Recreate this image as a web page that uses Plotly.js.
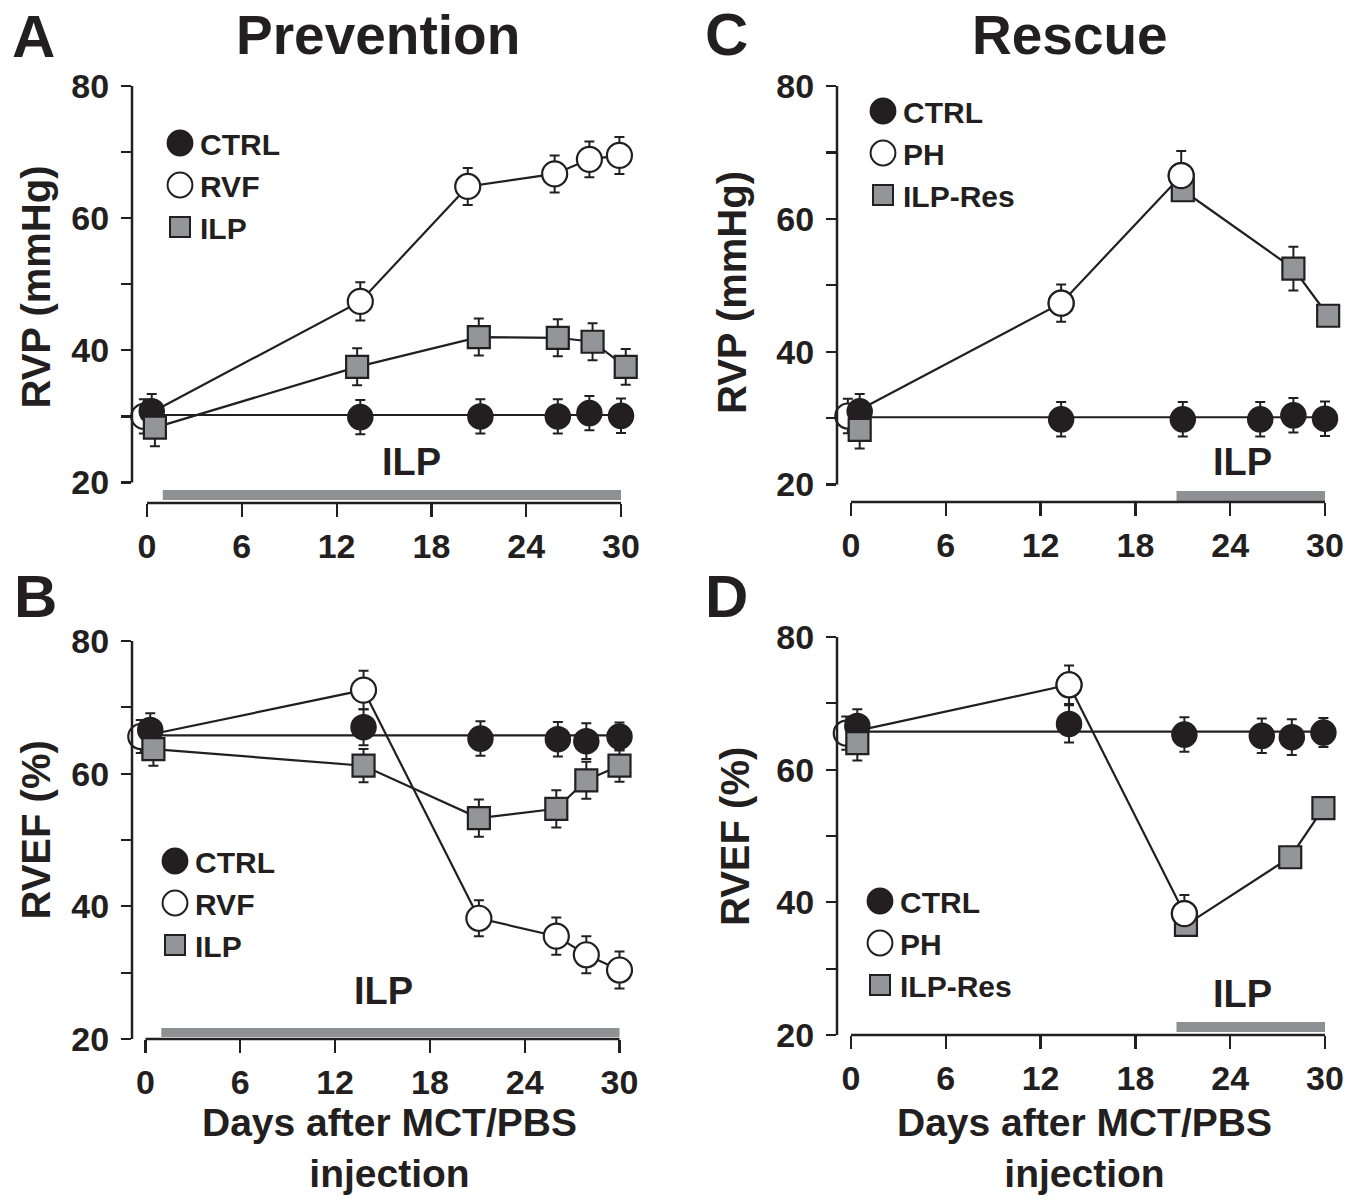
<!DOCTYPE html>
<html><head><meta charset="utf-8">
<script src="https://cdn.plot.ly/plotly-3.0.1.min.js"></script>
<style>html,body{margin:0;padding:0;background:#fff}#chart{width:1371px;height:1201px}</style>
</head><body><div id="chart"></div>
<script>
// ---------------- DATA ----------------
const xTicks = [0, 6, 12, 18, 24, 30];
const yTicks = [20, 30, 40, 50, 60, 70, 80];
const yTickText = ['20', '', '40', '', '60', '', '80'];

// ILP treatment period (days)
const ilpPrevention = [1, 30];
const ilpRescue = [20.6, 30];

// Panel A: Prevention, RVP (mmHg)
const daysA_ctrl = [0.3, 13.5, 21.1, 26.0, 28.0, 30.0];
const rvpA_ctrl = [30.8, 29.9, 30.0, 30.0, 30.5, 30.1];
const rvpA_ctrlErr = [2.6, 2.6, 2.6, 2.6, 2.6, 2.6];
const daysA_rvf = [-0.2, 13.5, 20.3, 25.8, 28.0, 29.9];
const rvpA_rvf = [30.0, 47.4, 64.8, 66.7, 68.9, 69.5];
const rvpA_rvfErr = [2.6, 2.9, 2.8, 2.8, 2.7, 2.8];
const daysA_ilp = [0.5, 13.3, 21.0, 26.0, 28.2, 30.3];
const rvpA_ilp = [28.3, 37.5, 42.0, 41.9, 41.3, 37.5];
const rvpA_ilpErr = [2.8, 2.8, 2.8, 2.8, 2.8, 2.7];

// Panel B: Prevention, RVEF (%)
const daysB_ctrl = [0.3, 13.8, 21.2, 26.1, 27.9, 30.0];
const efB_ctrl = [66.6, 67.0, 65.3, 65.2, 64.9, 65.6];
const efB_ctrlErr = [2.5, 2.7, 2.6, 2.6, 2.7, 2.1];
const daysB_rvf = [-0.3, 13.8, 21.1, 26.0, 27.9, 30.0];
const efB_rvf = [65.6, 72.6, 38.2, 35.5, 32.7, 30.4];
const efB_rvfErr = [2.5, 2.9, 2.7, 2.8, 2.8, 2.8];
const daysB_ilp = [0.5, 13.8, 21.1, 26.0, 27.9, 30.0];
const efB_ilp = [63.7, 61.2, 53.3, 54.7, 59.0, 61.2];
const efB_ilpErr = [2.5, 2.5, 2.8, 2.8, 2.8, 2.4];

// Panel C: Rescue, RVP (mmHg)
const daysC_ctrl = [0.55, 13.3, 21.0, 25.9, 28.0, 30.0];
const rvpC_ctrl = [31.0, 29.8, 29.8, 29.8, 30.4, 29.9];
const rvpC_ctrlErr = [2.6, 2.6, 2.6, 2.6, 2.6, 2.6];
const daysC_ph = [-0.2, 13.3, 20.9];
const rvpC_ph = [30.3, 47.3, 66.5];
const rvpC_phErr = [2.6, 2.8, 3.7];
const daysC_ilpRes = [0.55, 21.0, 28.0, 30.2];
const rvpC_ilpRes = [28.2, 64.3, 52.5, 45.4];
const rvpC_ilpResErr = [2.8, 1.0, 3.3, 0.8];

// Panel D: Rescue, RVEF (%)
const daysD_ctrl = [0.4, 13.8, 21.1, 26.0, 27.9, 29.9];
const efD_ctrl = [66.6, 66.9, 65.3, 65.1, 64.9, 65.6];
const efD_ctrlErr = [2.5, 2.8, 2.6, 2.6, 2.7, 2.2];
const daysD_ph = [-0.3, 13.8, 21.1];
const efD_ph = [65.5, 72.8, 38.3];
const efD_phErr = [2.5, 2.9, 2.8];
const daysD_ilpRes = [0.4, 21.2, 27.8, 29.9];
const efD_ilpRes = [64.0, 36.6, 46.8, 54.2];
const efD_ilpResErr = [2.6, 0.8, 0.8, 0.8];

// ---------------- STYLE ----------------
const W = 1371, H = 1201;
const BLACK = '#231f20', GRAY = '#939598', BAR = '#8e9093';
const FONT = '"Liberation Sans", Arial, Helvetica, sans-serif';
const px = x => x / W;
const py = y => 1 - y / H;

const mk = {
  ctrl: {symbol: 'circle', size: 25, color: BLACK, line: {color: BLACK, width: 1.5}},
  open: {symbol: 'circle', size: 25, color: '#ffffff', line: {color: BLACK, width: 2.2}},
  sq:   {symbol: 'square', size: 22, color: GRAY, line: {color: BLACK, width: 2.2}}
};

const mean = a => a.reduce((s, v) => s + v, 0) / a.length;

function lineTrace(xa, ya, x, y) {
  return {type: 'scatter', mode: 'lines', x: x, y: y, xaxis: xa, yaxis: ya,
    line: {color: BLACK, width: 2.2}, showlegend: false, hoverinfo: 'skip', cliponaxis: false};
}
function flatTrace(xa, ya, x, y) {
  const m = mean(y);
  return lineTrace(xa, ya, [Math.min(...x), Math.max(...x)], [m, m]);
}
function markTrace(xa, ya, legend, name, rank, x, y, err, marker) {
  const t = {type: 'scatter', mode: 'markers', name: name, x: x, y: y, xaxis: xa, yaxis: ya,
    legend: legend, legendrank: rank, marker: marker, cliponaxis: false};
  if (err) {
    t.error_y = {type: 'data', array: err, visible: true, color: BLACK, thickness: 2, width: 5};
  } else {
    t.showlegend = false;
  }
  return t;
}

const traces = [
  // Panel A
  flatTrace('x', 'y', daysA_ctrl, rvpA_ctrl),
  lineTrace('x', 'y', daysA_rvf, rvpA_rvf),
  lineTrace('x', 'y', daysA_ilp, rvpA_ilp),
  markTrace('x', 'y', 'legend', 'RVF', 2, daysA_rvf, rvpA_rvf, rvpA_rvfErr, mk.open),
  markTrace('x', 'y', 'legend', 'CTRL', 1, daysA_ctrl, rvpA_ctrl, rvpA_ctrlErr, mk.ctrl),
  markTrace('x', 'y', 'legend', 'ILP', 3, daysA_ilp, rvpA_ilp, rvpA_ilpErr, mk.sq),
  // Panel B
  flatTrace('x2', 'y2', daysB_ctrl, efB_ctrl),
  lineTrace('x2', 'y2', daysB_rvf, efB_rvf),
  lineTrace('x2', 'y2', daysB_ilp, efB_ilp),
  markTrace('x2', 'y2', 'legend2', 'RVF', 2, daysB_rvf, efB_rvf, efB_rvfErr, mk.open),
  markTrace('x2', 'y2', 'legend2', 'CTRL', 1, daysB_ctrl, efB_ctrl, efB_ctrlErr, mk.ctrl),
  markTrace('x2', 'y2', 'legend2', 'ILP', 3, daysB_ilp, efB_ilp, efB_ilpErr, mk.sq),
  // Panel C
  flatTrace('x3', 'y3', daysC_ctrl, rvpC_ctrl),
  lineTrace('x3', 'y3', daysC_ph, rvpC_ph),
  lineTrace('x3', 'y3', daysC_ilpRes.slice(1), rvpC_ilpRes.slice(1)),
  markTrace('x3', 'y3', 'legend3', 'PH', 2, daysC_ph, rvpC_ph, rvpC_phErr, mk.open),
  markTrace('x3', 'y3', 'legend3', 'CTRL', 1, daysC_ctrl, rvpC_ctrl, rvpC_ctrlErr, mk.ctrl),
  markTrace('x3', 'y3', 'legend3', 'ILP-Res', 3, daysC_ilpRes, rvpC_ilpRes, rvpC_ilpResErr, mk.sq),
  markTrace('x3', 'y3', 'legend3', 'PH', 4, daysC_ph.slice(1), rvpC_ph.slice(1), null, mk.open),
  // Panel D
  flatTrace('x4', 'y4', daysD_ctrl, efD_ctrl),
  lineTrace('x4', 'y4', daysD_ph, efD_ph),
  lineTrace('x4', 'y4', daysD_ilpRes.slice(1), efD_ilpRes.slice(1)),
  markTrace('x4', 'y4', 'legend4', 'PH', 2, daysD_ph, efD_ph, efD_phErr, mk.open),
  markTrace('x4', 'y4', 'legend4', 'CTRL', 1, daysD_ctrl, efD_ctrl, efD_ctrlErr, mk.ctrl),
  markTrace('x4', 'y4', 'legend4', 'ILP-Res', 3, daysD_ilpRes, efD_ilpRes, efD_ilpResErr, mk.sq),
  markTrace('x4', 'y4', 'legend4', 'PH', 4, daysD_ph.slice(1), efD_ph.slice(1), null, mk.open)
];

const tickFont = {family: FONT, size: 34, color: BLACK, weight: 'bold'};
const RIGHT_PAD_DAYS = 1.5; // room so markers just past day 30 are not clipped
function xAxis(domL, zeroPx, thirtyPx, anchor) {
  const perDay = (thirtyPx - zeroPx) / 30;
  return {domain: [px(domL), px(thirtyPx + RIGHT_PAD_DAYS * perDay)],
    range: [-(zeroPx - domL) / perDay, 30 + RIGHT_PAD_DAYS], anchor: anchor,
    tickvals: xTicks, ticktext: xTicks.map(String), ticks: 'outside', ticklen: 13, tickwidth: 2.2,
    tickcolor: BLACK, tickfont: tickFont, ticklabelstandoff: 0, showline: false, showgrid: false,
    zeroline: false, fixedrange: true};
}
function yAxis(topPx, botPx, px80, px20, anchor) {
  const perUnit = (px20 - px80) / 60;
  return {domain: [py(botPx), py(topPx)], range: [20 - (botPx - px20) / perUnit, 80 + (px80 - topPx) / perUnit],
    anchor: anchor, tickvals: yTicks, ticktext: yTickText, ticks: 'outside', ticklen: 10, tickwidth: 2.2,
    tickcolor: BLACK, tickfont: tickFont, ticklabelstandoff: 5, showline: false, showgrid: false,
    zeroline: false, fixedrange: true};
}

function panelShapes(xr, yr, ilp, barBot, barTop) {
  return [
    {type: 'rect', xref: xr, yref: yr + ' domain', x0: ilp[0], x1: ilp[1], y0: barBot, y1: barTop,
      fillcolor: BAR, line: {width: 0}, layer: 'below'},
    {type: 'line', xref: xr + ' domain', yref: yr, x0: 0, x1: 0, y0: yTicks[0], y1: yTicks[yTicks.length - 1],
      line: {color: BLACK, width: 2.5}},
    {type: 'line', xref: xr, yref: yr + ' domain', x0: xTicks[0], x1: xTicks[xTicks.length - 1], y0: 0, y1: 0,
      line: {color: BLACK, width: 2.5}}
  ];
}

function ann(text, x, y, size, extra) {
  return Object.assign({text: text, x: px(x), y: py(y), xref: 'paper', yref: 'paper', showarrow: false,
    xanchor: 'center', yanchor: 'middle', borderpad: 0,
    font: {family: FONT, size: size, color: BLACK, weight: 'bold'}}, extra || {});
}

function legendAt(left, top) {
  return {x: px(left), y: py(top), xref: 'paper', yref: 'paper', xanchor: 'left', yanchor: 'top',
    font: {family: FONT, size: 30, color: BLACK, weight: 'bold'}, bgcolor: 'rgba(0,0,0,0)',
    borderwidth: 0, tracegroupgap: 0, itemclick: false, itemdoubleclick: false};
}

const layout = {
  width: W, height: H, margin: {l: 0, r: 0, t: 0, b: 0},
  paper_bgcolor: '#ffffff', plot_bgcolor: 'rgba(0,0,0,0)',
  font: {family: FONT, color: BLACK},
  hovermode: false,
  xaxis: xAxis(132, 147, 621, 'y'),
  yaxis: yAxis(86, 503, 86, 482.5, 'x'),
  xaxis2: xAxis(132, 145.5, 619.5, 'y2'),
  yaxis2: yAxis(641, 1039, 641, 1039, 'x2'),
  xaxis3: xAxis(837, 851, 1325, 'y3'),
  yaxis3: yAxis(86, 502, 86, 484.4, 'x3'),
  xaxis4: xAxis(837, 851, 1325, 'y4'),
  yaxis4: yAxis(637, 1035, 637, 1035, 'x4'),
  legend: legendAt(160, 117),
  legend2: legendAt(155, 835),
  legend3: legendAt(863, 85),
  legend4: legendAt(860, 875),
  shapes: [].concat(
    panelShapes('x', 'y', ilpPrevention, 3 / 417, 13 / 417),
    panelShapes('x2', 'y2', ilpPrevention, 2 / 398, 11 / 398),
    panelShapes('x3', 'y3', ilpRescue, 1 / 416, 11 / 416),
    panelShapes('x4', 'y4', ilpRescue, 3 / 398, 13 / 398)
  ),
  annotations: [
    ann('A', 33, 36, 60), ann('B', 35, 596, 60), ann('C', 727, 35, 60), ann('D', 727, 596, 60),
    ann('Prevention', 377.5, 35, 55), ann('Rescue', 1070, 35, 55),
    ann('RVP (mmHg)', 35.5, 287, 40, {textangle: -90}),
    ann('RVEF (%)', 35.5, 830, 40, {textangle: -90}),
    ann('RVP (mmHg)', 732, 293, 40, {textangle: -90}),
    ann('RVEF (%)', 735, 837, 40, {textangle: -90}),
    ann('Days after MCT/PBS<br>injection', 389, 1148, 39),
    ann('Days after MCT/PBS<br>injection', 1084, 1148, 39),
    ann('ILP', 411, 462, 38), ann('ILP', 383, 991, 38),
    ann('ILP', 1242, 462, 38), ann('ILP', 1242, 994, 38)
  ]
};

Plotly.newPlot('chart', traces, layout, {displayModeBar: false, staticPlot: true}).then(function (gd) {
  // enlarge legend symbols (Plotly caps legend markers at 16px)
  gd.querySelectorAll('.infolayer path.scatterpts').forEach(function (p) {
    const d = p.getAttribute('d') || '';
    const s = d.indexOf('A') >= 0 ? 1.55 : 1.25;
    const t = p.getAttribute('transform') || '';
    p.setAttribute('transform', t + ' scale(' + s + ')');
    p.style.strokeWidth = (2 / s).toFixed(2) + 'px';
  });
});
</script></body></html>
